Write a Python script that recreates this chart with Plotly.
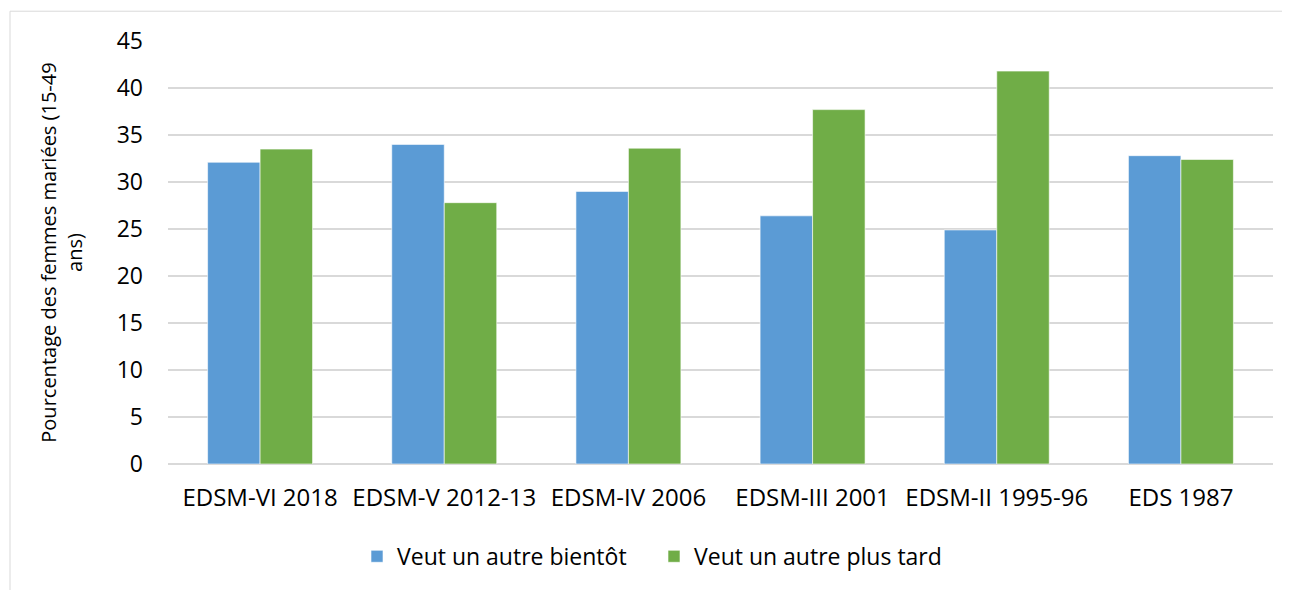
import plotly.graph_objects as go

categories = ["EDSM-VI 2018", "EDSM-V 2012-13", "EDSM-IV 2006", "EDSM-III 2001", "EDSM-II 1995-96", "EDS 1987"]
bientot = [32.1, 34.0, 29.0, 26.4, 24.9, 32.8]
plus_tard = [33.5, 27.8, 33.6, 37.7, 41.8, 32.4]
y_ticks = [0, 5, 10, 15, 20, 25, 30, 35, 40, 45]

FONT = "Open Sans"
OFF = 8  # default page body margin
W, H = 1290 - OFF, 590 - OFF
# plot area in page pixels: left 168, right 1273, top 41, bottom 467
L, T = 168 - OFF, 41 - OFF
R = W - (1273 - OFF)
B = H - (467 - OFF)
pw, ph = W - L - R, H - T - B

def px_x(x):
    return (x - OFF - L) / pw

def px_y(y):
    return (H - B - (y - OFF)) / ph

fig = go.Figure()
fig.add_trace(go.Bar(x=categories, y=bientot, name="Veut un autre bientôt", legend="legend",
                     marker=dict(color="#5B9BD5", line=dict(color="#FFFFFF", width=0.6))))
fig.add_trace(go.Bar(x=categories, y=plus_tard, name="Veut un autre plus tard", legend="legend2",
                     marker=dict(color="#70AD47", line=dict(color="#FFFFFF", width=0.6))))

leg_common = dict(orientation="h", xanchor="left", y=px_y(560), yanchor="middle",
                  font=dict(family=FONT, size=23), itemwidth=30, tracegroupgap=0,
                  bgcolor="rgba(0,0,0,0)", borderwidth=0)

fig.update_layout(
    width=W, height=H,
    margin=dict(l=L, r=R, t=T, b=B),
    plot_bgcolor="white", paper_bgcolor="white",
    barmode="group", bargap=0.43, bargroupgap=0,
    font=dict(family=FONT, size=23, color="#000000"),
    showlegend=True,
    legend=dict(x=px_x(357), **leg_common),
    legend2=dict(x=px_x(654), **leg_common),
    xaxis=dict(showgrid=False, showline=False, ticks="", ticklabelstandoff=17,
               tickfont=dict(family=FONT, size=24)),
    yaxis=dict(range=[0, 45], tickvals=y_ticks, showgrid=True, gridcolor="#D9D9D9", gridwidth=1.5,
               zeroline=True, zerolinecolor="#D9D9D9", zerolinewidth=1.5, showline=False,
               ticks="", ticklabelstandoff=24, tickfont=dict(family=FONT, size=23),
               title=dict(text="Pourcentage des femmes mariées (15-49<br>ans)",
                          font=dict(family=FONT, size=20), standoff=28)),
    shapes=[dict(type="rect", xref="paper", yref="paper",
                 x0=px_x(10), x1=px_x(1289), y0=px_y(600), y1=px_y(11),
                 line=dict(color="#D9D9D9", width=1), fillcolor="rgba(0,0,0,0)", layer="below")],
)

fig.write_html("out.html")
